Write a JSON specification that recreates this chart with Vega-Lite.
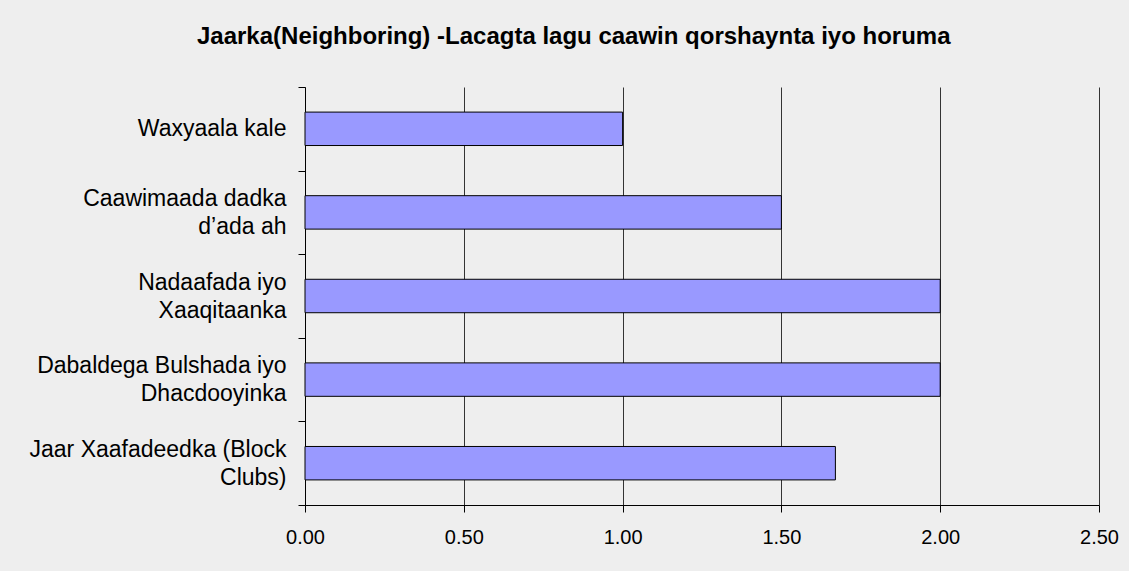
{
  "$schema": "https://vega.github.io/schema/vega-lite/v6.json",
  "autosize": "none",
  "width": 794,
  "height": 418,
  "padding": {"left": 305, "top": 87, "right": 30, "bottom": 66},
  "background": "#EEEEEE",
  "title": {
    "text": "Jaarka(Neighboring) -Lacagta lagu caawin qorshaynta iyo horuma",
    "font": "Liberation Sans",
    "fontSize": 24,
    "fontWeight": "bold",
    "color": "#000000",
    "anchor": "middle",
    "frame": "bounds",
    "baseline": "alphabetic",
    "offset": 8
  },
  "data": {
    "values": [
      {"item": "Waxyaala kale", "value": 1.0},
      {"item": "Caawimaada dadka\nd’ada ah", "value": 1.5},
      {"item": "Nadaafada iyo\nXaaqitaanka", "value": 2.0},
      {"item": "Dabaldega Bulshada iyo\nDhacdooyinka", "value": 2.0},
      {"item": "Jaar Xaafadeedka (Block\nClubs)", "value": 1.67}
    ]
  },
  "mark": {"type": "bar", "color": "#9999FF", "stroke": "#000000", "strokeWidth": 1, "height": {"band": 0.4}},
  "encoding": {
    "y": {
      "field": "item",
      "type": "nominal",
      "sort": null,
      "scale": {"paddingInner": 0, "paddingOuter": 0},
      "axis": {
        "title": null,
        "labelExpr": "indexof(datum.label, '\\n') >= 0 ? [split(datum.label, '\\n')[0], '\u2800', split(datum.label, '\\n')[1]] : ['\u00a0', datum.label]",
        "labelFont": "Liberation Sans",
        "labelFontSize": 23,
        "labelColor": "#000000",
        "labelLineHeight": 14,
        "labelOffset": -14,
        "labelPadding": 12,
        "labelLimit": 400,
        "tickBand": "extent",
        "tickSize": 7,
        "tickColor": "#000000",
        "domainColor": "#000000",
        "grid": false
      }
    },
    "x": {
      "field": "value",
      "type": "quantitative",
      "scale": {"domain": [0, 2.5], "nice": false},
      "axis": {
        "title": null,
        "values": [0, 0.5, 1, 1.5, 2, 2.5],
        "format": ".2f",
        "labelFont": "Liberation Sans",
        "labelFontSize": 20,
        "labelColor": "#000000",
        "labelPadding": 15,
        "labelFlush": false,
        "tickSize": 7,
        "tickColor": "#000000",
        "domainColor": "#000000",
        "grid": true,
        "gridColor": "#333333",
        "gridOpacity": 1
      }
    }
  },
  "config": {"view": {"stroke": null}}
}
